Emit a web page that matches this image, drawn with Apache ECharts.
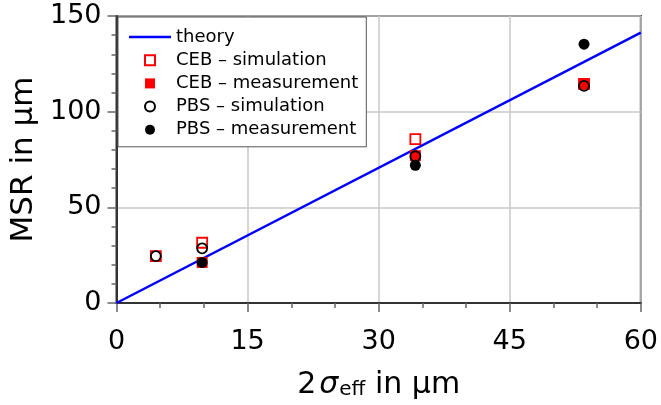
<!DOCTYPE html>
<html>
<head>
<meta charset="utf-8">
<script src="https://cdn.jsdelivr.net/npm/echarts@6/dist/echarts.min.js"></script>
<style>html,body{margin:0;padding:0;background:#fff}#c{width:661px;height:405px}</style>
</head>
<body>
<div id="c"></div>
<script>
// ---- data ----
var theoryX = [0, 60];
var theoryY = [0, 141.3];

var cebSimX = [4.5, 9.8, 34.2, 53.5];
var cebSimY = [24.5, 31.5, 85.7, 114.5];

var cebMeasX = [9.8, 34.2, 53.5];
var cebMeasY = [21.2, 77.0, 114.5];

var pbsSimX = [4.5, 9.8, 34.2, 53.5];
var pbsSimY = [24.5, 28.6, 76.7, 113.5];

var pbsMeasX = [9.8, 34.2, 53.5];
var pbsMeasY = [21.2, 72.0, 135.3];

var xTicks = [0, 15, 30, 45, 60];
var yTicks = [0, 50, 100, 150];

var names = ['theory', 'CEB \u2013 simulation', 'CEB \u2013 measurement', 'PBS \u2013 simulation', 'PBS \u2013 measurement'];

function pairs(xs, ys) { return xs.map(function (x, i) { return [x, ys[i]]; }); }

var FONT = 'DejaVu Sans';
var SQUARE = 'path://M0,0H10V10H0Z';
var chart = echarts.init(document.getElementById('c'), null, { renderer: 'canvas' });
chart.setOption({
  animation: false,
  backgroundColor: '#fff',
  grid: { left: 116.5, right: 20, top: 16, bottom: 97, show: true, borderColor: '#333', borderWidth: 2, backgroundColor: 'transparent' },
  legend: {
    orient: 'vertical', left: 118, top: 17,
    padding: [11, 8, 8, 11],
    itemWidth: 42, itemHeight: 10, itemGap: 5.2,
    symbolKeepAspect: true,
    backgroundColor: '#fff', borderColor: '#555', borderWidth: 1, borderRadius: 0,
    textStyle: { fontFamily: FONT, fontSize: 18, lineHeight: 18, color: '#000' },
    data: [
      { name: names[0], icon: 'path://M0,0H42V2.5H0Z', itemStyle: { color: '#0000ff' } },
      { name: names[1], icon: SQUARE },
      { name: names[2], icon: SQUARE },
      { name: names[3], icon: 'circle' },
      { name: names[4], icon: 'circle' }
    ]
  },
  xAxis: {
    type: 'value', min: xTicks[0], max: xTicks[xTicks.length - 1], interval: 15,
    name: '{n|2}{s|\u03c3}{e|eff}{n| in \u03bcm}',
    nameLocation: 'middle', nameGap: 61,
    nameTextStyle: {
      fontFamily: FONT, color: '#000',
      rich: {
        n: { fontFamily: FONT, fontSize: 30, color: '#000', lineHeight: 36, verticalAlign: 'bottom' },
        s: { fontFamily: FONT, fontSize: 30, fontStyle: 'italic', color: '#000', lineHeight: 36, verticalAlign: 'bottom', padding: [0, 1, 0, 3] },
        e: { fontFamily: FONT, fontSize: 20, color: '#000', lineHeight: 18, verticalAlign: 'bottom' }
      }
    },
    axisLine: { show: true, lineStyle: { color: '#333', width: 2 } },
    axisTick: { show: true, inside: false, length: 9, lineStyle: { color: '#666', width: 1.5 } },
    minorTick: { show: true, splitNumber: 3, length: 5, lineStyle: { color: '#666', width: 1.5 } },
    splitLine: { show: true, lineStyle: { color: '#c8c8c8', width: 1.5 } },
    axisLabel: { fontFamily: FONT, fontSize: 27, color: '#000', margin: 25 }
  },
  yAxis: {
    type: 'value', min: yTicks[0], max: yTicks[yTicks.length - 1], interval: 50,
    name: 'MSR in \u03bcm', nameLocation: 'middle', nameGap: 67, nameRotate: 90,
    nameTextStyle: { fontFamily: FONT, fontSize: 31, color: '#000' },
    axisLine: { show: true, lineStyle: { color: '#333', width: 2 } },
    axisTick: { show: true, inside: false, length: 9, lineStyle: { color: '#666', width: 1.5 } },
    minorTick: { show: true, splitNumber: 5, length: 5, lineStyle: { color: '#666', width: 1.5 } },
    splitLine: { show: true, lineStyle: { color: '#c8c8c8', width: 1.5 } },
    axisLabel: { fontFamily: FONT, fontSize: 27, color: '#000', margin: 15 }
  },
  series: [
    { name: names[0], type: 'line', data: pairs(theoryX, theoryY), symbol: 'none', lineStyle: { color: '#0000ff', width: 2.5 }, itemStyle: { color: '#0000ff' }, z: 2 },
    { name: names[1], type: 'scatter', data: pairs(cebSimX, cebSimY), symbol: 'rect', symbolSize: 10, itemStyle: { color: 'rgba(255,255,255,0)', borderColor: '#ff0000', borderWidth: 1.8, opacity: 1 }, z: 3 },
    { name: names[2], type: 'scatter', data: pairs(cebMeasX, cebMeasY), symbol: 'rect', symbolSize: 11, itemStyle: { color: '#ff0000', opacity: 1 }, z: 4 },
    { name: names[3], type: 'scatter', data: pairs(pbsSimX, pbsSimY), symbol: 'circle', symbolSize: 10, itemStyle: { color: 'rgba(255,255,255,0)', borderColor: '#000', borderWidth: 1.8, opacity: 1 }, z: 5 },
    { name: names[4], type: 'scatter', data: pairs(pbsMeasX, pbsMeasY), symbol: 'circle', symbolSize: 11, itemStyle: { color: '#000', opacity: 1 }, z: 6 }
  ]
});
</script>
</body>
</html>
